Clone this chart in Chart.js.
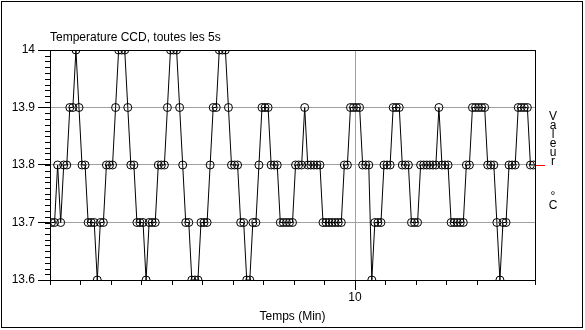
<!DOCTYPE html>
<html>
<head>
<meta charset="utf-8">
<script src="https://cdn.jsdelivr.net/npm/chart.js@4.4.1/dist/chart.umd.min.js"></script>
<style>
  html, body { margin: 0; padding: 0; background: #fff; }
  #wrap { position: relative; width: 585px; height: 330px; }
</style>
</head>
<body>
<div id="wrap"><canvas id="tempChart" width="585" height="330"></canvas></div>
<script>
// Temperature CCD, one sample every ~0.1 min
const sampleStep = 0.1;
const firstSample = 0.05;
const tempValues = [
    13.7, 13.7, 13.8, 13.7, 13.8, 13.8, 13.9, 13.9, 14.0, 13.9,
    13.8, 13.8, 13.7, 13.7, 13.7, 13.6, 13.7, 13.7, 13.8, 13.8,
    13.8, 13.9, 14.0, 14.0, 14.0, 13.9, 13.8, 13.8, 13.7, 13.7,
    13.7, 13.6, 13.7, 13.7, 13.7, 13.8, 13.8, 13.8, 13.9, 14.0,
    14.0, 14.0, 13.9, 13.8, 13.7, 13.7, 13.6, 13.6, 13.6, 13.7,
    13.7, 13.7, 13.8, 13.9, 13.9, 14.0, 14.0, 14.0, 13.9, 13.8,
    13.8, 13.8, 13.7, 13.7, 13.6, 13.6, 13.7, 13.7, 13.8, 13.9,
    13.9, 13.9, 13.8, 13.8, 13.8, 13.7, 13.7, 13.7, 13.7, 13.7,
    13.8, 13.8, 13.8, 13.9, 13.8, 13.8, 13.8, 13.8, 13.8, 13.7,
    13.7, 13.7, 13.7, 13.7, 13.7, 13.7, 13.8, 13.8, 13.9, 13.9,
    13.9, 13.9, 13.8, 13.8, 13.8, 13.6, 13.7, 13.7, 13.7, 13.8,
    13.8, 13.8, 13.9, 13.9, 13.9, 13.8, 13.8, 13.8, 13.7, 13.7,
    13.7, 13.8, 13.8, 13.8, 13.8, 13.8, 13.8, 13.9, 13.8, 13.8,
    13.8, 13.7, 13.7, 13.7, 13.7, 13.7, 13.8, 13.8, 13.9, 13.9,
    13.9, 13.9, 13.9, 13.8, 13.8, 13.8, 13.7, 13.6, 13.7, 13.7,
    13.8, 13.8, 13.8, 13.9, 13.9, 13.9, 13.9, 13.8, 13.8
];
const yTicks = [13.6, 13.7, 13.8, 13.9, 14];
const xLabelled = [10];
const titleText = 'Temperature CCD, toutes les 5s';
const xTitle = 'Temps (Min)';
const yTitleLetters = ['V', 'a', 'l', 'e', 'u', 'r', '', '', '', '°', 'C'];

const FONT = 'Liberation Sans, Arial, sans-serif';
const GRID_GRAY = '#a0a0a0';

const points = tempValues.map((v, i) => ({ x: firstSample + i * sampleStep, y: v }));

// extra drawing: frame, minor ticks, titles, red marker
const decorations = {
    id: 'decorations',
    beforeDatasetsDraw(chart) {
        const { ctx, chartArea: a, scales } = chart;
        ctx.save();
        ctx.strokeStyle = '#000';
        ctx.lineWidth = 1;
        ctx.strokeRect(Math.round(a.left) + 0.5, Math.round(a.top) + 0.5,
                       Math.round(a.right - a.left), Math.round(a.bottom - a.top));
        // minor y ticks every 0.01
        ctx.beginPath();
        for (let k = 0; k <= 40; k++) {
            const y = Math.round(scales.y.getPixelForValue(13.6 + k * 0.01)) + 0.5;
            ctx.moveTo(a.left - 5, y);
            ctx.lineTo(a.left, y);
        }
        // longer tick under labelled x values
        xLabelled.forEach(v => {
            const x = Math.round(scales.x.getPixelForValue(v)) + 0.5;
            ctx.moveTo(x, a.bottom);
            ctx.lineTo(x, a.bottom + 10);
        });
        ctx.stroke();
        ctx.restore();
    },
    afterDraw(chart) {
        const { ctx, chartArea: a, scales } = chart;
        ctx.save();
        // outer frame
        ctx.strokeStyle = '#000';
        ctx.lineWidth = 1;
        ctx.strokeRect(1.5, 1.5, chart.width - 4, chart.height - 4);

        ctx.fillStyle = '#000';
        ctx.font = '12px ' + FONT;
        ctx.textBaseline = 'alphabetic';
        ctx.textAlign = 'left';
        ctx.fillText(titleText, a.left, 41);

        ctx.textAlign = 'center';
        ctx.fillText(xTitle, (a.left + a.right) / 2, 320);

        // stacked right-hand label
        yTitleLetters.forEach((ch, i) => {
            if (ch) ctx.fillText(ch, a.right + 18, 120 + i * 8.9);
        });

        // current value marker
        const last = tempValues[tempValues.length - 1];
        const ym = Math.round(scales.y.getPixelForValue(last)) + 0.5;
        ctx.strokeStyle = '#ff0000';
        ctx.beginPath();
        ctx.moveTo(a.right + 1, ym);
        ctx.lineTo(a.right + 10, ym);
        ctx.stroke();
        ctx.restore();
    }
};

new Chart(document.getElementById('tempChart'), {
    type: 'line',
    data: {
        datasets: [{
            data: points,
            borderColor: '#000',
            borderWidth: 1,
            tension: 0,
            pointRadius: 4,
            pointBorderWidth: 1,
            pointBorderColor: '#000',
            pointBackgroundColor: 'rgba(0,0,0,0)'
        }]
    },
    options: {
        responsive: false,
        animation: false,
        layout: { padding: { top: 50, right: 50, left: 0, bottom: 0 } },
        plugins: {
            legend: { display: false },
            tooltip: { enabled: false }
        },
        scales: {
            x: {
                type: 'linear',
                min: 0,
                max: 15.9,
                afterFit: s => { s.height = 50; },
                border: { display: false },
                grid: {
                    color: c => (c.tick && xLabelled.includes(c.tick.value)) ? GRID_GRAY : 'rgba(0,0,0,0)',
                    tickColor: '#000',
                    tickLength: 5
                },
                ticks: {
                    stepSize: 1,
                    autoSkip: false,
                    maxRotation: 0,
                    padding: 5,
                    color: '#000',
                    font: { family: FONT, size: 12 },
                    callback: v => xLabelled.includes(v) ? String(v) : ''
                }
            },
            y: {
                min: yTicks[0],
                max: yTicks[yTicks.length - 1],
                afterFit: s => { s.width = 50; },
                border: { display: false },
                afterBuildTicks: s => { s.ticks = yTicks.map(v => ({ value: v })); },
                grid: {
                    color: c => (c.tick && (c.tick.value === yTicks[0] || c.tick.value === yTicks[yTicks.length - 1])) ? 'rgba(0,0,0,0)' : GRID_GRAY,
                    tickColor: '#000',
                    tickLength: 12
                },
                ticks: {
                    padding: 3,
                    color: '#000',
                    font: { family: FONT, size: 12 },
                    callback: v => String(+v.toFixed(1))
                }
            }
        }
    },
    plugins: [decorations]
});
</script>
</body>
</html>
